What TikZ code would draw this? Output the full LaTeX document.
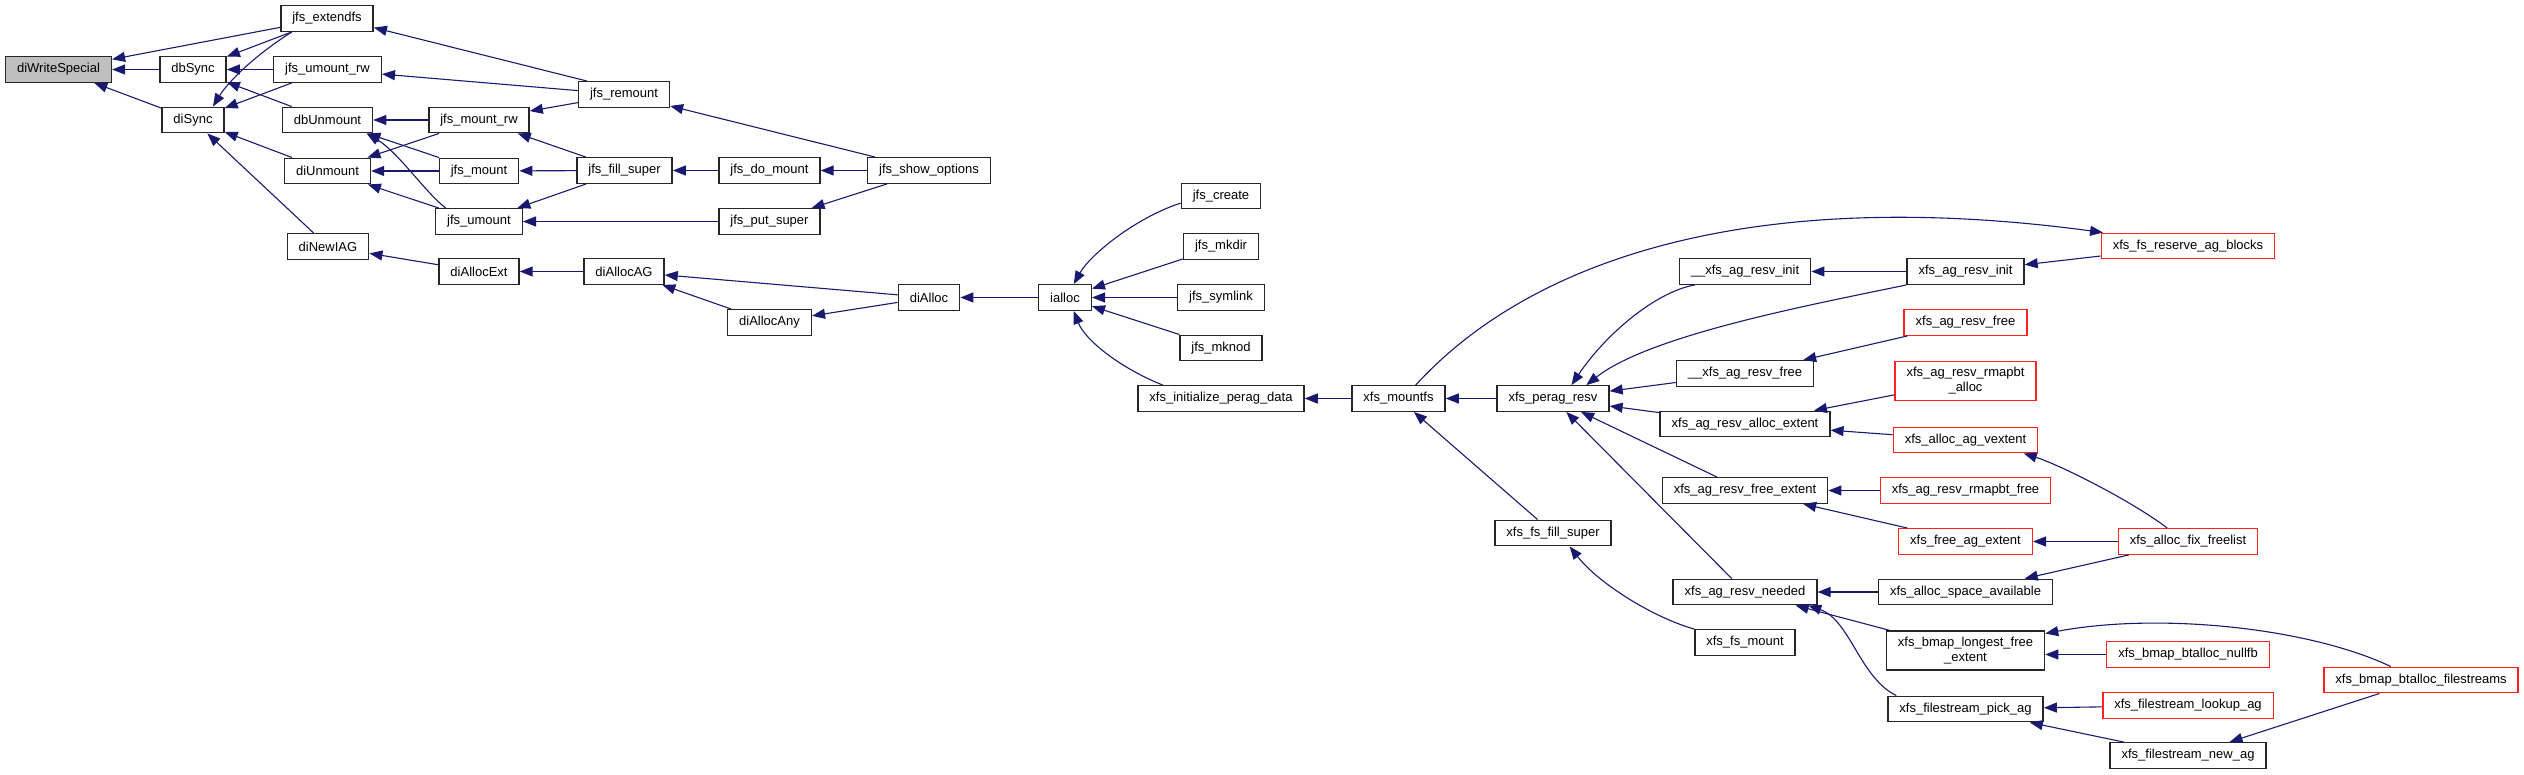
\documentclass[tikz,border=0pt]{standalone}
\usepackage{fontspec}
\setmainfont{Liberation Sans}
\usepackage{xcolor}
\usepackage{tikz}
\usetikzlibrary{arrows.meta}

\definecolor{edgeblue}{HTML}{191970}
\definecolor{boxred}{HTML}{FF2020}

\begin{document}
\begin{tikzpicture}[x=1pt, y=1pt,
    fn/.style={draw=black!85, line width=1.4pt, fill=white, rectangle, inner xsep=11.5pt, inner ysep=6pt, minimum height=25.5pt, align=center, font=\fontsize{13}{15}\selectfont},
    trunc/.style={fn, draw=boxred},
    focus/.style={fn, fill=black!25},
    arrow/.style={-{Triangle[length=13pt,width=10pt]}, edgeblue, line width=1.1pt}
]
    \useasboundingbox (0,0) rectangle (2524,-775);

    % jfs side
    \node[focus] (writespec) at (58.5,-69.5) {diWriteSpecial};
    \node[fn] (dbsync)    at (193,-69.5) {dbSync};
    \node[fn] (disync)    at (193,-120) {diSync};
    \node[fn] (extendfs)  at (327,-18.5) {jfs\_extendfs};
    \node[fn] (umountrw)  at (327.5,-69.5) {jfs\_umount\_rw};
    \node[fn] (dbunmount) at (327.5,-120) {dbUnmount};
    \node[fn] (diunmount) at (327.5,-171) {diUnmount};
    \node[fn] (newiag)    at (328,-246.5) {diNewIAG};
    \node[fn] (mountrw)   at (479,-120) {jfs\_mount\_rw};
    \node[fn] (jfsmount)  at (479,-171) {jfs\_mount};
    \node[fn] (jfsumount) at (479,-221.5) {jfs\_umount};
    \node[fn] (allocext)  at (479,-271.5) {diAllocExt};
    \node[fn] (remount)   at (624,-94.5) {jfs\_remount};
    \node[fn] (fillsuper) at (624.5,-170.5) {jfs\_fill\_super};
    \node[fn] (allocag)   at (624,-271.5) {diAllocAG};
    \node[fn] (domount)   at (769.5,-170.5) {jfs\_do\_mount};
    \node[fn] (putsuper)  at (769.5,-221.5) {jfs\_put\_super};
    \node[fn] (allocany)  at (769.5,-322.5) {diAllocAny};
    \node[fn] (showopts)  at (929,-170.5) {jfs\_show\_options};
    \node[fn] (dialloc)   at (929,-297.5) {diAlloc};
    \node[fn] (ialloc)    at (1065,-297.5) {ialloc};
    \node[fn] (create)    at (1221,-196) {jfs\_create};
    \node[fn] (mkdir)     at (1221,-246.5) {jfs\_mkdir};
    \node[fn] (symlink)   at (1221,-297.5) {jfs\_symlink};
    \node[fn] (mknod)     at (1221,-348) {jfs\_mknod};

    % xfs side
    \node[fn] (initperag) at (1221,-398.5) {xfs\_initialize\_perag\_data};
    \node[fn] (mountfs)   at (1398.5,-398.5) {xfs\_mountfs};
    \node[fn] (fsfill)    at (1553,-533) {xfs\_fs\_fill\_super};
    \node[fn] (peragresv) at (1553,-398.5) {xfs\_perag\_resv};
    \node[fn] (resvinitx) at (1745,-271.5) {\_\_xfs\_ag\_resv\_init};
    \node[fn] (resvfreex) at (1745,-373.5) {\_\_xfs\_ag\_resv\_free};
    \node[fn] (allocextent) at (1745,-424) {xfs\_ag\_resv\_alloc\_extent};
    \node[fn] (freeextent)  at (1745,-490.5) {xfs\_ag\_resv\_free\_extent};
    \node[fn] (needed)    at (1745,-592) {xfs\_ag\_resv\_needed};
    \node[fn] (fsmount)   at (1745,-642.5) {xfs\_fs\_mount};
    \node[fn] (resvinit)  at (1965.5,-271.5) {xfs\_ag\_resv\_init};
    \node[trunc] (resvfree)  at (1965.5,-322.5) {xfs\_ag\_resv\_free};
    \node[trunc] (rmapalloc) at (1965.5,-381) {xfs\_ag\_resv\_rmapbt\\\_alloc};
    \node[trunc] (vextent)   at (1965.5,-440) {xfs\_alloc\_ag\_vextent};
    \node[trunc] (rmapfree)  at (1965.5,-490.5) {xfs\_ag\_resv\_rmapbt\_free};
    \node[trunc] (freeag)    at (1965.5,-541.5) {xfs\_free\_ag\_extent};
    \node[fn] (spaceavail) at (1965.5,-592) {xfs\_alloc\_space\_available};
    \node[fn] (longest)    at (1965.5,-650.5) {xfs\_bmap\_longest\_free\\\_extent};
    \node[fn] (pickag)     at (1965.5,-709) {xfs\_filestream\_pick\_ag};
    \node[trunc] (reserve)  at (2188,-246) {xfs\_fs\_reserve\_ag\_blocks};
    \node[trunc] (fixfree)  at (2188,-541.5) {xfs\_alloc\_fix\_freelist};
    \node[trunc] (nullfb)   at (2188,-654.5) {xfs\_bmap\_btalloc\_nullfb};
    \node[trunc] (lookup)   at (2188,-705.5) {xfs\_filestream\_lookup\_ag};
    \node[fn] (newag)       at (2188,-755.5) {xfs\_filestream\_new\_ag};
    \node[trunc] (filestreams) at (2421,-680) {xfs\_bmap\_btalloc\_filestreams};

    % jfs calls
    \draw[arrow] (dbsync) -- (writespec);
    \draw[arrow] (disync) -- (writespec);
    \draw[arrow] (extendfs) -- (writespec);
    \draw[arrow] (extendfs) -- (dbsync);
    \draw[arrow] (extendfs.201) .. controls (255,-55) and (228,-82) .. (disync.34);
    \draw[arrow] (umountrw) -- (dbsync);
    \draw[arrow] (umountrw) -- (disync);
    \draw[arrow] (dbunmount) -- (dbsync);
    \draw[arrow] (diunmount) -- (disync);
    \draw[arrow] (newiag) -- (disync);
    \draw[arrow] (remount.160) -- (extendfs.-11);
    \draw[arrow] (remount) -- (umountrw);
    \draw[arrow] (mountrw) -- (dbunmount);
    \draw[arrow] (mountrw) -- (diunmount);
    \draw[arrow] (jfsmount) -- (dbunmount);
    \draw[arrow] (jfsmount) -- (diunmount);
    \draw[arrow] (jfsumount.158) .. controls (425,-192) and (398,-152) .. (dbunmount.-19);
    \draw[arrow] (jfsumount) -- (diunmount);
    \draw[arrow] (remount) -- (mountrw);
    \draw[arrow] (fillsuper) -- (mountrw);
    \draw[arrow] (fillsuper) -- (jfsmount);
    \draw[arrow] (fillsuper) -- (jfsumount);
    \draw[arrow] (putsuper) -- (jfsumount);
    \draw[arrow] (showopts) -- (remount);
    \draw[arrow] (domount) -- (fillsuper);
    \draw[arrow] (showopts) -- (domount);
    \draw[arrow] (showopts) -- (putsuper);
    \draw[arrow] (allocext) -- (newiag);
    \draw[arrow] (allocag) -- (allocext);
    \draw[arrow] (dialloc) -- (allocag);
    \draw[arrow] (allocany) -- (allocag);
    \draw[arrow] (dialloc) -- (allocany);
    \draw[arrow] (ialloc) -- (dialloc);
    \draw[arrow] (create.190) .. controls (1135,-218) and (1090,-255) .. (ialloc.57);
    \draw[arrow] (mkdir) -- (ialloc);
    \draw[arrow] (symlink) -- (ialloc);
    \draw[arrow] (mknod) -- (ialloc);
    \draw[arrow] (initperag.167) .. controls (1120,-368) and (1085,-340) .. (ialloc.-57);

    % xfs calls
    \draw[arrow] (mountfs) -- (initperag);
    \draw[arrow] (fsfill) -- (mountfs);
    \draw[arrow] (fsmount.north west) .. controls (1655,-618) and (1600,-585) .. (fsfill.-39);
    \draw[arrow] (peragresv) -- (mountfs);
    \draw[arrow] (mountfs.38) .. controls (1530,-260) and (1750,-185) .. (reserve.171);
    \draw[arrow] (resvinitx.195) .. controls (1655,-292) and (1605,-335) .. (peragresv.36);
    \draw[arrow] (resvinit.south west) .. controls (1810,-305) and (1650,-335) .. (peragresv.22);
    \draw[arrow] (resvinit) -- (resvinitx);
    \draw[arrow] (reserve) -- (resvinit);
    \draw[arrow] (resvfreex) -- (peragresv);
    \draw[arrow] (resvfree) -- (resvfreex);
    \draw[arrow] (allocextent) -- (peragresv);
    \draw[arrow] (rmapalloc) -- (allocextent);
    \draw[arrow] (vextent) -- (allocextent);
    \draw[arrow] (freeextent) -- (peragresv);
    \draw[arrow] (needed) -- (peragresv);
    \draw[arrow] (rmapfree) -- (freeextent);
    \draw[arrow] (freeag) -- (freeextent);
    \draw[arrow] (fixfree) -- (freeag);
    \draw[arrow] (fixfree.147) .. controls (2130,-500) and (2060,-465) .. (vextent.-13);
    \draw[arrow] (fixfree) -- (spaceavail);
    \draw[arrow] (spaceavail) -- (needed);
    \draw[arrow] (longest) -- (needed);
    \draw[arrow] (pickag.169) .. controls (1860,-678) and (1850,-620) .. (needed.-12);
    \draw[arrow] (nullfb.west) -- (longest.east |- nullfb.west);
    \draw[arrow] (filestreams.156) .. controls (2310,-628) and (2160,-612) .. (longest.12);
    \draw[arrow] (lookup) -- (pickag);
    \draw[arrow] (newag) -- (pickag);
    \draw[arrow] (filestreams) -- (newag);
\end{tikzpicture}
\end{document}
